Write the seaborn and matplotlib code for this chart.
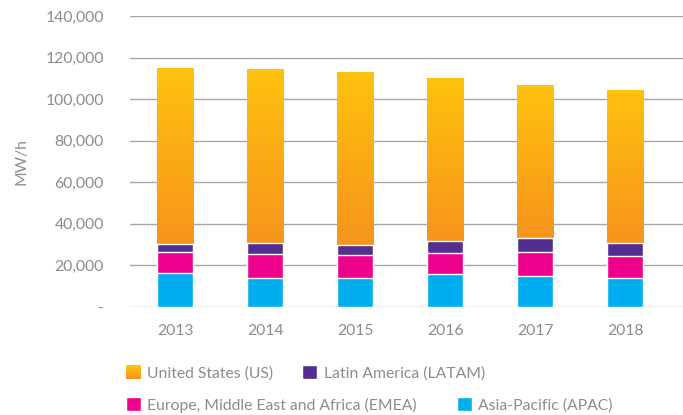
import numpy as np
import pandas as pd
import matplotlib
matplotlib.use("Agg")
import matplotlib.pyplot as plt
import seaborn as sns
from matplotlib.colors import LinearSegmentedColormap
from matplotlib.patches import Patch, Rectangle
from matplotlib.legend_handler import HandlerBase
from matplotlib.ticker import FuncFormatter

# data (MWh per region, stacked bottom to top)
years = ["2013", "2014", "2015", "2016", "2017", "2018"]
apac = [16200, 14100, 14100, 16000, 15100, 14100]
emea = [10400, 11500, 11100, 10100, 11500, 10600]
latam = [3700, 5200, 4600, 5800, 6400, 5900]
us = [84700, 83500, 83100, 78200, 73800, 73800]

keys = ["APAC", "EMEA", "LATAM", "US"]
labels = {
    "US": "United States (US)",
    "LATAM": "Latin America (LATAM)",
    "EMEA": "Europe, Middle East and Africa (EMEA)",
    "APAC": "Asia-Pacific (APAC)",
}
colors = {"APAC": "#00AEEF", "EMEA": "#EC008C", "LATAM": "#522E91", "US": "#FDB515"}
us_cmap = LinearSegmentedColormap.from_list("us", ["#F7941D", "#FFC20E"])
text_gray = "#8c8c8c"
fs = 11.3

sns.set_theme(style="white")
plt.rcParams["font.family"] = ["Lato", "DejaVu Sans"]

df = pd.DataFrame({"year": years, "APAC": apac, "EMEA": emea, "LATAM": latam, "US": us})
cum = df[keys].cumsum(axis=1)

fig = plt.figure(figsize=(6.83, 4.15), dpi=100)
ax = fig.add_axes([130 / 683, 1 - 307 / 415, 553 / 683, 291 / 415])

# draw cumulative totals from the top segment down so each covers the one below
us_patches = None
for z, key in enumerate(reversed(keys)):
    n_before = len(ax.patches)
    sns.barplot(x=df["year"], y=cum[key], color=colors[key], saturation=1,
                width=0.4, ax=ax, zorder=2 + z)
    if key == "US":
        us_patches = ax.patches[n_before:]

# gradient fill for the US segment
grad = np.linspace(0, 1, 256).reshape(-1, 1)
for p, lo, hi in zip(us_patches, cum["LATAM"], cum["US"]):
    x0, w = p.get_x(), p.get_width()
    p.set_facecolor("none")
    p.set_edgecolor("none")
    im = ax.imshow(grad, extent=[x0, x0 + w, lo, hi], origin="lower",
                   cmap=us_cmap, aspect="auto", zorder=2)
    im.set_clip_path(p)

ax.set_xlim(-0.5, 5.64)
ax.set_ylim(0, 140000)
ax.set_yticks(np.arange(0, 140001, 20000))
ax.yaxis.set_major_formatter(FuncFormatter(lambda v, _: "-" if v == 0 else f"{int(v):,}"))
ax.grid(axis="y", color="#a6a6a6", linewidth=1.0, zorder=0)
ax.set_axisbelow(True)
for s in ax.spines.values():
    s.set_visible(False)
ax.tick_params(axis="both", length=0, labelsize=fs, labelcolor=text_gray)
ax.tick_params(axis="y", pad=19)
ax.tick_params(axis="x", pad=12)
ax.set_xlabel("")
ax.set_ylabel("MW/h", color=text_gray, fontsize=fs, labelpad=12)


class GradientHandler(HandlerBase):
    def create_artists(self, legend, orig_handle, xdescent, ydescent,
                       width, height, fontsize, trans):
        n = 20
        arts = []
        for k in range(n):
            r = Rectangle((-xdescent, -ydescent + height * k / n), width, height / n + 0.3,
                          facecolor=us_cmap(k / (n - 1)), edgecolor="none", transform=trans)
            arts.append(r)
        return arts


us_handle = Patch(facecolor=colors["US"])
row1 = [us_handle, Patch(facecolor=colors["LATAM"])]
row2 = [Patch(facecolor=colors["EMEA"]), Patch(facecolor=colors["APAC"])]

common = dict(frameon=False, loc="center left", borderpad=0, borderaxespad=0,
              handlelength=0.95, handleheight=0.95, handletextpad=0.4,
              prop={"size": fs}, labelcolor=text_gray, ncol=2)
fig.legend(row1, [labels["US"], labels["LATAM"]], bbox_to_anchor=(126 / 683, 1 - 373 / 415),
           columnspacing=1.85, handler_map={us_handle: GradientHandler()}, **common)
fig.legend(row2, [labels["EMEA"], labels["APAC"]], bbox_to_anchor=(126 / 683, 1 - 405 / 415),
           columnspacing=2.55, **common)

fig.savefig("out.png", dpi=100)
